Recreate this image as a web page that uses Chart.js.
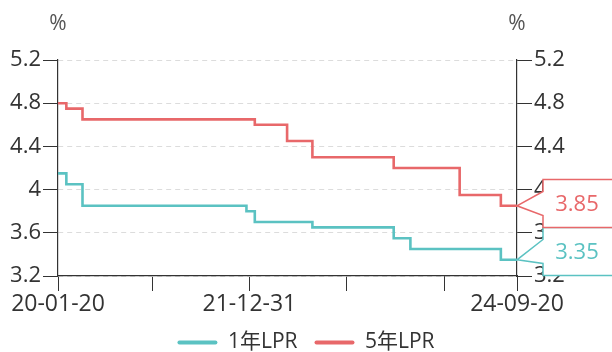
<!DOCTYPE html>
<html>
<head>
<meta charset="utf-8">
<script src="https://cdn.jsdelivr.net/npm/chart.js"></script>
<style>
  body { margin: 0; background: #fff; }
  #wrap { width: 612px; height: 352px; position: relative; }
</style>
</head>
<body>
<div id="wrap"><canvas id="lprChart"></canvas></div>
<script>
// LPR change dates and the rate that applied from that date on (%)
const changeDates = ['2020-01-20', '2020-02-20', '2020-04-20', '2021-12-20', '2022-01-20', '2022-05-20',
                     '2022-08-22', '2023-06-20', '2023-08-21', '2024-02-20', '2024-07-22', '2024-09-20'];
const lpr1y = [4.15, 4.05, 3.85, 3.80, 3.70, 3.70, 3.65, 3.55, 3.45, 3.45, 3.35, 3.35];
const lpr5y = [4.80, 4.75, 4.65, 4.65, 4.60, 4.45, 4.30, 4.20, 4.20, 3.95, 3.85, 3.85];
const seriesNames = ['1年LPR', '5年LPR'];

const xTickDates = ['2020-01-20', '2021-01-04', '2021-12-31', '2022-12-26', '2023-12-24', '2024-09-20'];
const xTickLabels = ['20-01-20', '', '21-12-31', '', '', '24-09-20'];
const yTicks = [3.2, 3.6, 4.0, 4.4, 4.8, 5.2];

const colors = ['#5bc2c2', '#e8686a'];
const font = '"Open Sans", "Noto Sans CJK SC", sans-serif';
const axisColor = '#333';

const startDay = Date.parse(changeDates[0]);
const dayOf = d => Math.round((Date.parse(d) - startDay) / 86400000);

function points(values) {
    return changeDates.map((d, i) => ({ x: dayOf(d), y: values[i] }));
}

// "%" over each y axis
const unitPlugin = {
    id: 'unitLabels',
    afterDraw(chart) {
        const c = chart.ctx;
        c.save();
        c.font = '21px ' + font;
        c.fillStyle = '#555';
        c.textAlign = 'center';
        c.textBaseline = 'middle';
        c.fillText('%', chart.scales.y.right, 24);
        c.fillText('%', chart.scales.y2.left, 24);
        c.restore();
    }
};

// value tags pointing at the last value of each series
const tagPlugin = {
    id: 'endTags',
    afterDraw(chart) {
        const c = chart.ctx;
        const area = chart.chartArea;
        const yScale = chart.scales.y;
        const tipX = chart.scales.x.right;
        const boxX = tipX + 26, boxW = 72, half = 24;
        const tags = chart.data.datasets.map((ds, i) => {
            const v = ds.data[ds.data.length - 1].y;
            const y = yScale.getPixelForValue(v);
            return { v, y, c: y, color: ds.borderColor };
        }).sort((a, b) => b.y - a.y);
        let limit = area.bottom - half - 0.5;
        tags.forEach(t => {
            t.c = Math.min(t.y, limit);
            limit = t.c - half * 2;
        });
        c.save();
        tags.forEach(t => {
            c.beginPath();
            c.moveTo(boxX, t.c - half);
            c.lineTo(boxX + boxW, t.c - half);
            c.lineTo(boxX + boxW, t.c + half);
            c.lineTo(boxX, t.c + half);
            c.lineTo(boxX, t.c + 12);
            c.lineTo(tipX, t.y);
            c.lineTo(boxX, t.c - 12);
            c.closePath();
            c.fillStyle = '#fff';
            c.fill();
            c.lineWidth = 1.5;
            c.strokeStyle = t.color;
            c.stroke();
            c.font = '22px ' + font;
            c.fillStyle = t.color;
            c.textAlign = 'center';
            c.textBaseline = 'middle';
            c.fillText(t.v.toFixed(2), boxX + 34, t.c + 1);
        });
        c.restore();
    }
};

function yAxis(position) {
    return {
        type: 'linear',
        position: position,
        min: 3.2,
        max: 5.2,
        afterBuildTicks: s => { s.ticks = yTicks.map(v => ({ value: v })); },
        afterFit: s => { s.width = position === 'left' ? 58 : 95; },
        ticks: {
            color: axisColor,
            padding: 2,
            font: { family: font, size: 22 },
            callback: v => String(+v.toFixed(1))
        },
        grid: {
            drawOnChartArea: position === 'left',
            color: '#dcdcdc',
            tickColor: axisColor,
            tickLength: 15,
            tickBorderDash: []
        },
        border: { display: true, color: axisColor, width: 1.2, dash: [5, 4] }
    };
}

new Chart(document.getElementById('lprChart'), {
    type: 'line',
    data: {
        datasets: [lpr1y, lpr5y].map((vals, i) => ({
            label: seriesNames[i],
            data: points(vals),
            borderColor: colors[i],
            backgroundColor: colors[i],
            borderWidth: 2.6,
            stepped: true,
            pointRadius: 0,
            fill: false,
            yAxisID: 'y'
        }))
    },
    options: {
        responsive: true,
        maintainAspectRatio: false,
        animation: false,
        layout: { padding: { top: 60, left: 0, right: 0, bottom: -11 } },
        scales: {
            x: {
                type: 'linear',
                min: 0,
                max: dayOf(changeDates[changeDates.length - 1]),
                afterBuildTicks: s => { s.ticks = xTickDates.map(d => ({ value: dayOf(d) })); },
                afterFit: s => { s.height = 39; },
                ticks: {
                    autoSkip: false,
                    maxRotation: 0,
                    color: axisColor,
                    padding: 0,
                    font: { family: font, size: 23 },
                    callback: (v, i) => xTickLabels[i]
                },
                grid: {
                    drawOnChartArea: false,
                    tickColor: axisColor,
                    tickLength: 15
                },
                border: { color: axisColor, width: 1.2 }
            },
            y: yAxis('left'),
            y2: yAxis('right')
        },
        plugins: {
            legend: {
                position: 'bottom',
                labels: {
                    font: { family: font, size: 21 },
                    color: '#333',
                    boxWidth: 40,
                    boxHeight: 4,
                    padding: 17,
                    useBorderRadius: true,
                    borderRadius: 2,
                    generateLabels: chart => Chart.defaults.plugins.legend.labels.generateLabels(chart)
                        .map(l => Object.assign(l, { lineWidth: 0, fillStyle: l.strokeStyle }))
                }
            },
            tooltip: { enabled: false }
        }
    },
    plugins: [unitPlugin, tagPlugin]
});
</script>
</body>
</html>
